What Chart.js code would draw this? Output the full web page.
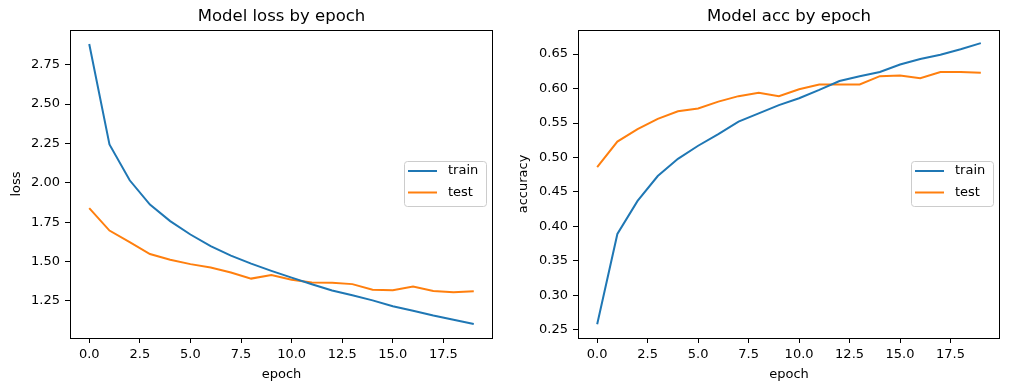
<!DOCTYPE html>
<html>
<head>
<meta charset="utf-8">
<title>Model loss / acc by epoch</title>
<script src="https://cdn.jsdelivr.net/npm/chart.js@4.4.0/dist/chart.umd.min.js"></script>
<style>
  html, body { margin: 0; padding: 0; background: #fff; }
  #wrap { position: relative; width: 1010px; height: 391px; overflow: hidden; }
  .panel { position: absolute; top: 0; width: 505px; height: 391px; }
</style>
</head>
<body>
<div id="wrap">
  <div class="panel" style="left:0"><canvas id="lossChart" width="505" height="391"></canvas></div>
  <div class="panel" style="left:505px"><canvas id="accChart" width="505" height="391"></canvas></div>
</div>
<script>
// -- Data --
const epochs = [0, 1, 2, 3, 4, 5, 6, 7, 8, 9, 10, 11, 12, 13, 14, 15, 16, 17, 18, 19];

const lossTrain = [2.881, 2.244, 2.016, 1.862, 1.757, 1.672, 1.598, 1.538, 1.487, 1.441, 1.398,
                   1.356, 1.316, 1.286, 1.254, 1.216, 1.188, 1.158, 1.131, 1.104];
const lossTest  = [1.839, 1.697, 1.624, 1.548, 1.512, 1.484, 1.462, 1.431, 1.392, 1.415, 1.385,
                   1.368, 1.366, 1.357, 1.322, 1.318, 1.341, 1.313, 1.305, 1.311];

const accTrain = [0.258, 0.389, 0.437, 0.473, 0.498, 0.517, 0.534, 0.552, 0.564, 0.576, 0.586,
                  0.598, 0.611, 0.618, 0.624, 0.635, 0.643, 0.649, 0.657, 0.666];
const accTest  = [0.486, 0.523, 0.541, 0.556, 0.567, 0.571, 0.581, 0.589, 0.594, 0.589, 0.599,
                  0.606, 0.606, 0.606, 0.618, 0.619, 0.615, 0.624, 0.624, 0.623];

const xTicks = [0, 2.5, 5, 7.5, 10, 12.5, 15, 17.5];
const lossTicks = [1.25, 1.5, 1.75, 2.0, 2.25, 2.5, 2.75];
const accTicks = [0.25, 0.30, 0.35, 0.40, 0.45, 0.50, 0.55, 0.60, 0.65];

const seriesNames = ['train', 'test'];
const colors = ['#1f77b4', '#ff7f0e'];

Chart.defaults.font.family = "'DejaVu Sans', sans-serif";
Chart.defaults.font.size = 13;
Chart.defaults.color = '#000';

// -- Plugins: axes frame + matplotlib-like legend (center right) --
const framePlugin = {
  id: 'frame',
  afterDatasetsDraw(chart) {
    const a = chart.chartArea;
    const ctx = chart.ctx;
    ctx.save();
    ctx.strokeStyle = '#000';
    ctx.lineWidth = 1;
    ctx.strokeRect(Math.round(a.left) + 0.5, Math.round(a.top) + 0.5,
                   Math.round(a.right - a.left) - 1, Math.round(a.bottom - a.top));
    ctx.restore();
  }
};

const boxLegend = {
  id: 'boxLegend',
  afterDraw(chart) {
    const a = chart.chartArea;
    const ctx = chart.ctx;
    const w = 82, h = 45;
    const x = Math.round(a.right - 7 - w);
    const y = Math.round((a.top + a.bottom) / 2 - h / 2) - 1;
    ctx.save();
    ctx.fillStyle = 'rgba(255,255,255,0.8)';
    ctx.strokeStyle = '#cccccc';
    ctx.lineWidth = 1;
    ctx.beginPath();
    ctx.roundRect(x + 0.5, y + 0.5, w, h, 3);
    ctx.fill();
    ctx.stroke();
    ctx.font = "13px 'DejaVu Sans', sans-serif";
    ctx.textAlign = 'left';
    ctx.textBaseline = 'middle';
    chart.data.datasets.forEach((ds, i) => {
      const ly = y + 10 + i * 21.5;
      ctx.strokeStyle = ds.borderColor;
      ctx.lineWidth = 2;
      ctx.beginPath();
      ctx.moveTo(x + 4, ly);
      ctx.lineTo(x + 33, ly);
      ctx.stroke();
      ctx.fillStyle = '#000';
      ctx.fillText(ds.label, x + 44, ly);
    });
    ctx.restore();
  }
};

function makeChart(canvasId, titleText, yLabel, trainVals, testVals, yTicks, yMin, yMax, leftW, padRight, yTitlePad) {
  return new Chart(document.getElementById(canvasId), {
    type: 'line',
    data: {
      datasets: [trainVals, testVals].map((vals, i) => ({
        label: seriesNames[i],
        data: epochs.map((e, j) => ({ x: e, y: vals[j] })),
        borderColor: colors[i],
        backgroundColor: colors[i],
        borderWidth: 2,
        pointRadius: 0,
        tension: 0,
        fill: false
      }))
    },
    options: {
      responsive: false,
      animation: false,
      layout: { padding: { left: 0, right: padRight, top: 0, bottom: 0 } },
      scales: {
        x: {
          type: 'linear',
          min: -0.95,
          max: 19.95,
          afterBuildTicks: s => { s.ticks = xTicks.map(v => ({ value: v })); },
          afterFit: s => { s.height = 53; },
          ticks: { callback: v => v.toFixed(1), padding: 4, maxRotation: 0, autoSkip: false },
          grid: { drawOnChartArea: false, drawTicks: true, tickLength: 5, color: '#000' },
          border: { display: false },
          title: { display: true, text: 'epoch', padding: { top: 0, bottom: 9 } }
        },
        y: {
          type: 'linear',
          min: yMin,
          max: yMax,
          afterBuildTicks: s => { s.ticks = yTicks.map(v => ({ value: v })); },
          afterFit: s => { s.width = leftW; },
          ticks: { callback: v => v.toFixed(2), padding: 5, autoSkip: false },
          grid: { drawOnChartArea: false, drawTicks: true, tickLength: 5, color: '#000' },
          border: { display: false },
          title: { display: true, text: yLabel, padding: { top: yTitlePad, bottom: 0 } }
        }
      },
      plugins: {
        legend: { display: false },
        tooltip: { enabled: false },
        title: {
          display: true,
          fullSize: false,
          text: titleText,
          font: { size: 16.5, weight: 'normal' },
          padding: { top: 7, bottom: 3.2 }
        }
      }
    },
    plugins: [framePlugin, boxLegend]
  });
}

makeChart('lossChart', 'Model loss by epoch', 'loss', lossTrain, lossTest, lossTicks, 1.015, 2.970, 70, 12, 9);
makeChart('accChart', 'Model acc by epoch', 'accuracy', accTrain, accTest, accTicks, 0.238, 0.685, 73, 10, 11);
</script>
</body>
</html>
